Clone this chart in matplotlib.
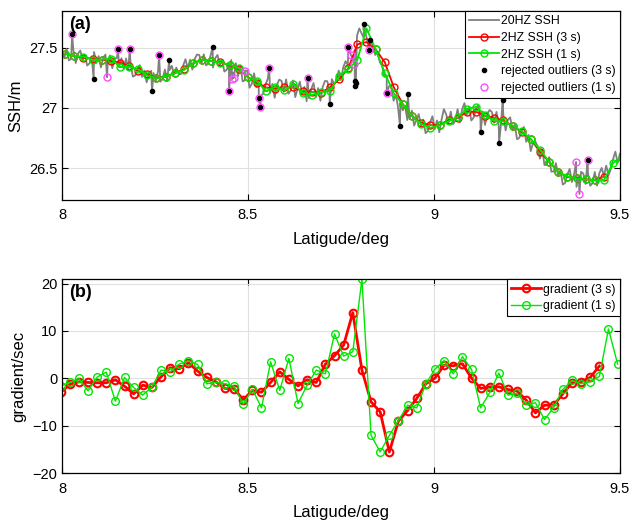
import numpy as np
import matplotlib
matplotlib.use("Agg")
import matplotlib.pyplot as plt

plt.rcParams["font.family"] = ["Liberation Sans", "DejaVu Sans"]

# 2 Hz along-track grid (latitude of first sample and spacing, deg)
lat0 = 7.9839
step = 0.02455

# 2 Hz SSH (m), 3 s and 1 s outlier windows
ssh_3s = [27.46, 27.45, 27.43, 27.417, 27.41, 27.40, 27.39, 27.375, 27.35, 27.31,
          27.28, 27.25, 27.26, 27.29, 27.32, 27.37, 27.40, 27.39, 27.38, 27.356,
          27.32, 27.256, 27.21, 27.17, 27.16, 27.173, 27.17, 27.14, 27.132, 27.126,
          27.17, 27.237, 27.328, 27.528, 27.547, 27.486, 27.38, 27.17, 27.029, 26.932,
          26.877, 26.857, 26.86, 26.90, 26.918, 26.968, 26.968, 26.935, 26.918, 26.896,
          26.85, 26.80, 26.74, 26.635, 26.553, 26.47, 26.425, 26.42, 26.407, 26.40,
          26.43]
ssh_1s = [27.46, 27.45, 27.43, 27.425, 27.40, 27.40, 27.41, 27.34, 27.343, 27.32,
          27.27, 27.246, 27.26, 27.287, 27.315, 27.37, 27.40, 27.39, 27.375, 27.36,
          27.33, 27.256, 27.22, 27.14, 27.176, 27.145, 27.20, 27.126, 27.107, 27.132,
          27.14, 27.265, 27.32, 27.40, 27.66, 27.486, 27.29, 27.12, 27.029, 26.932,
          26.868, 26.835, 26.857, 26.89, 26.924, 26.99, 27.01, 26.94, 26.89, 26.89,
          26.85, 26.807, 26.74, 26.655, 26.553, 26.47, 26.43, 26.415, 26.407, 26.40,
          26.40, 26.543, 26.586]

# 20 Hz SSH (m), evenly sampled from 8.0 to 9.5 deg
ssh_20hz = [
    27.49, 27.415, 27.49, 27.395, 27.41, 27.477, 27.373, 27.45,
    27.477, 27.395, 27.44, 27.352, 27.37, 27.428, 27.465, 27.373,
    27.43, 27.337, 27.415, 27.443, 27.37, 27.436, 27.33, 27.409,
    27.415, 27.339, 27.413, 27.321, 27.41, 27.32, 27.36, 27.26,
    27.27, 27.322, 27.355, 27.258, 27.31, 27.213, 27.285, 27.308,
    27.29, 27.223, 27.305, 27.218, 27.24, 27.318, 27.225, 27.313,
    27.35, 27.278, 27.335, 27.283, 27.28, 27.353, 27.405, 27.328,
    27.40, 27.318, 27.405, 27.443, 27.44, 27.368, 27.445, 27.353,
    27.37, 27.438, 27.335, 27.413, 27.44, 27.354, 27.398, 27.302,
    27.316, 27.367, 27.398, 27.293, 27.372, 27.265, 27.353, 27.22,
    27.23, 27.31, 27.168, 27.20, 27.288, 27.174, 27.229, 27.102,
    27.118, 27.194, 27.243, 27.123, 27.199, 27.085, 27.193, 27.235,
    27.225, 27.133, 27.237, 27.118, 27.144, 27.228, 27.09, 27.157,
    27.218, 27.112, 27.175, 27.056, 27.08, 27.157, 27.207, 27.088,
    27.165, 27.059, 27.174, 27.224, 27.222, 27.148, 27.239, 27.20,
    27.217, 27.31, 27.233, 27.338, 27.388, 27.358, 27.458, 27.418,
    27.48, 27.60, 27.66, 27.62, 27.58, 27.60, 27.52, 27.55,
    27.52, 27.44, 27.46, 27.38, 27.35, 27.26, 27.27, 27.18,
    27.19, 27.06, 27.11, 27.00, 27.06, 26.98, 27.02, 26.90,
    26.908, 26.978, 26.854, 26.90, 26.949, 26.848, 26.903, 26.79,
    26.809, 26.881, 26.931, 26.823, 26.896, 26.798, 26.904, 26.99,
    26.948, 26.869, 26.969, 26.866, 26.894, 26.99, 26.883, 26.99,
    27.04, 26.944, 27.004, 26.896, 26.92, 26.984, 27.023, 26.907,
    26.971, 26.859, 26.951, 26.983, 26.966, 26.877, 26.967, 26.853,
    26.872, 26.945, 26.813, 26.902, 26.922, 26.814, 26.861, 26.74,
    26.752, 26.809, 26.842, 26.719, 26.776, 26.642, 26.711, 26.721,
    26.683, 26.579, 26.654, 26.526, 26.529, 26.592, 26.471, 26.473,
    26.542, 26.435, 26.484, 26.364, 26.377, 26.448, 26.494, 26.385,
    26.456, 26.345, 26.438, 26.47, 26.455, 26.369, 26.464, 26.354,
    26.376, 26.468, 26.355, 26.458, 26.502, 26.434, 26.521, 26.441,
    26.492, 26.577, 26.637, 26.542, 26.62]

# rejected 20 Hz outliers (lat, SSH)
out3_lat = [8.027, 8.085, 8.1505, 8.182, 8.242, 8.261, 8.288, 8.405, 8.449, 8.529,
            8.533, 8.557, 8.660, 8.7196, 8.770, 8.787, 8.790, 8.789, 8.812, 8.828,
            8.826, 8.873, 8.9086, 8.930, 9.1255, 9.175, 9.1846, 9.413]
out3_ssh = [27.61, 27.237, 27.486, 27.486, 27.14, 27.44, 27.40, 27.506, 27.14, 27.08,
            27.007, 27.334, 27.248, 27.03, 27.506, 27.22, 27.205, 27.185, 27.70, 27.56,
            27.478, 27.12, 26.849, 27.112, 26.80, 26.705, 27.062, 26.566]
out1_lat = [8.027, 8.121, 8.1505, 8.182, 8.261, 8.449, 8.458, 8.462, 8.492, 8.529,
            8.533, 8.557, 8.660, 8.770, 8.777, 8.785, 8.826, 8.873, 9.382, 9.391,
            9.413]
out1_ssh = [27.61, 27.256, 27.486, 27.486, 27.44, 27.14, 27.24, 27.25, 27.31, 27.08,
            27.007, 27.334, 27.248, 27.506, 27.436, 27.367, 27.478, 27.12, 26.552, 26.286,
            26.566]

# along-track gradient between 2 Hz samples
grad_3s = [-2.95, -1.27, -0.71, -0.85, -0.92, -0.92, -0.29, -1.63, -3.25, -1.41,
           -1.9, 0.35, 2.25, 2.04, 3.3, 1.55, 0.21, -0.71, -2.1, -2.18,
           -4.5, -2.54, -2.9, -0.85, 1.4, -0.21, -1.56, -0.28, -0.85, 3.03,
           4.78, 7.04, 13.87, 1.75, -4.94, -7.06, -15.5, -8.96, -6.77, -4.23,
           -1.13, 0.07, 2.81, 2.67, 3.09, 0.07, -2.11, -1.77, -1.77, -2.33,
           -2.68, -4.59, -7.27, -5.64, -5.64, -3.25, -0.92, -0.71, 0.21, 2.6]
grad_1s = [-1.6, -0.85, 0.0, -2.61, 0.28, 1.33, -4.8, 0.21, -1.9, -3.52,
           -1.83, 1.75, 1.4, 3.03, 3.73, 2.96, -1.13, -0.85, -1.13, -1.63,
           -5.43, -2.26, -6.21, 3.51, -2.54, 4.23, -5.29, -1.41, 1.75, 0.97,
           9.37, 4.71, 5.63, 20.9, -11.99, -15.5, -12.0, -8.88, -5.64, -6.21,
           -1.13, 1.97, 3.73, 0.97, 4.57, 1.9, -6.21, -2.96, 1.12, -3.52,
           -3.17, -5.5, -5.14, -8.67, -6.13, -2.33, -0.42, -1.13, -0.71, 0.42,
           10.42, 3.03]

lat_3s = lat0 + step * np.arange(len(ssh_3s))
lat_1s = lat0 + step * np.arange(len(ssh_1s))
glat_3s = lat0 + step * (np.arange(len(grad_3s)) + 0.5)
glat_1s = lat0 + step * (np.arange(len(grad_1s)) + 0.5)

# 20 Hz track includes the outliers that were later rejected
lat_20 = np.linspace(8.0, 9.5, len(ssh_20hz))
all_lat = np.concatenate([lat_20, out3_lat, out1_lat])
all_ssh = np.concatenate([ssh_20hz, out3_ssh, out1_ssh])
order = np.argsort(all_lat, kind="stable")

RED = "#ff0000"
GREEN = "#00e600"
MAG = "#ff4dff"

fig = plt.figure(figsize=(6.29, 5.20), dpi=100)
ax1 = fig.add_axes([0.0986, 0.6154, 0.887, 0.3635])
ax2 = fig.add_axes([0.0986, 0.0898, 0.887, 0.3731])

ax1.plot(all_lat[order], all_ssh[order], color="#808080", lw=1.3, label="20HZ SSH")
ax1.plot(lat_3s, ssh_3s, "-o", color=RED, lw=1.3, ms=5, mfc="none", mew=1.0,
         label="2HZ SSH (3 s)")
ax1.plot(lat_1s, ssh_1s, "-o", color=GREEN, lw=1.3, ms=5, mfc="none", mew=1.0,
         label="2HZ SSH (1 s)")
ax1.plot(out3_lat, out3_ssh, "o", color="k", ms=3, ls="none",
         label="rejected outliers (3 s)")
ax1.plot(out1_lat, out1_ssh, "o", color=MAG, ms=5, mfc="none", mew=1.0, ls="none",
         label="rejected outliers (1 s)")
ax1.set_ylim(26.236, 27.805)
ax1.set_yticks([26.5, 27, 27.5])
ax1.set_yticklabels(["26.5", "27", "27.5"])
ax1.set_ylabel("SSH/m", fontsize=12)

ax2.plot(glat_3s, grad_3s, "-o", color=RED, lw=2.0, ms=5.5, mfc="none", mew=1.5,
         label="gradient (3 s)")
ax2.plot(glat_1s, grad_1s, "-o", color=GREEN, lw=1.0, ms=5.5, mfc="none", mew=1.0,
         label="gradient (1 s)")
ax2.set_ylim(-20, 20.9)
ax2.set_yticks([-20, -10, 0, 10, 20])
ax2.set_ylabel("gradient/sec", fontsize=12)

for ax, tag in [(ax1, "(a)"), (ax2, "(b)")]:
    ax.set_xlim(8, 9.5)
    ax.set_xticks([8, 8.5, 9, 9.5])
    ax.set_xticklabels(["8", "8.5", "9", "9.5"])
    ax.set_xlabel("Latigude/deg", fontsize=12, labelpad=7)
    ax.grid(True, color="#e0e0e0", lw=0.8)
    ax.set_axisbelow(True)
    ax.tick_params(direction="in", top=True, right=True, labelsize=10.5,
                   length=4, width=0.8)
    ax.tick_params(axis="x", pad=6)
    for s in ax.spines.values():
        s.set_linewidth(0.9)
    ax.text(0.012, 0.975, tag, transform=ax.transAxes, fontsize=13,
            fontweight="bold", va="top", ha="left")
    leg = ax.legend(loc="upper right", fontsize=8.8, fancybox=False, framealpha=1,
                    edgecolor="k", borderaxespad=0, handlelength=2.4,
                    handletextpad=0.2, borderpad=0.35, labelspacing=0.38)
    leg.get_frame().set_linewidth(0.8)

fig.savefig("out.png", dpi=100)
